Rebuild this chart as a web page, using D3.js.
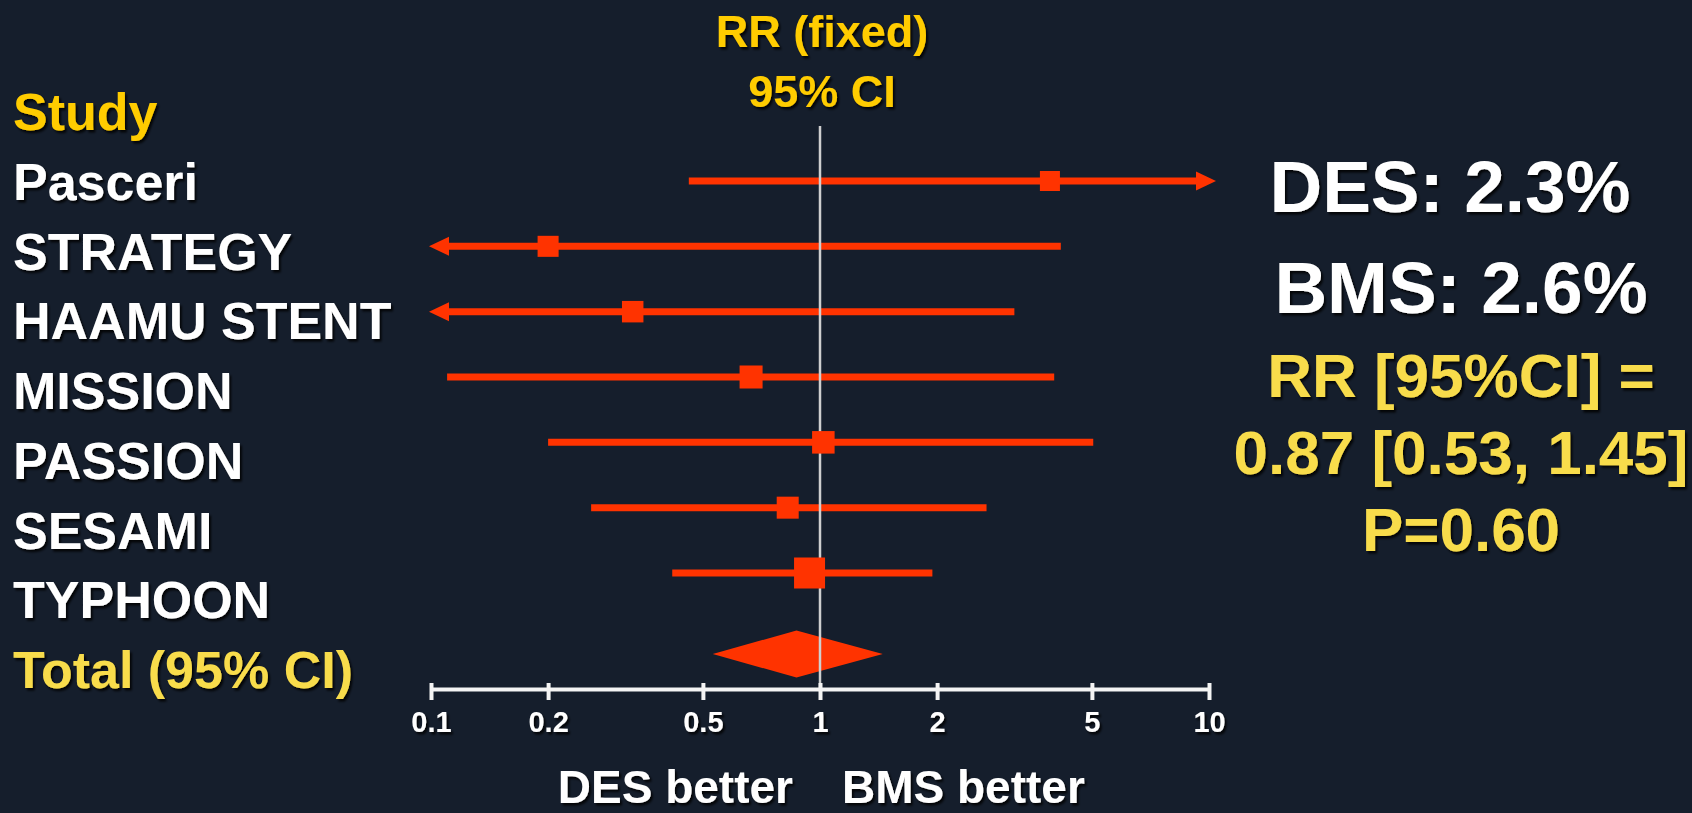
<!DOCTYPE html>
<html>
<head>
<meta charset="utf-8">
<script src="https://cdn.jsdelivr.net/npm/d3@7"></script>
<style>
  html, body { margin: 0; padding: 0; background: #151e2c; }
  svg { display: block; }
  text { font-family: "Liberation Sans", Arial, Helvetica, sans-serif; font-weight: bold; }
</style>
</head>
<body>
<script>
// ---------- data ----------
const studies   = ["Pasceri", "STRATEGY", "HAAMU STENT", "MISSION", "PASSION", "SESAMI", "TYPHOON"];
const rr        = [3.9, 0.20, 0.33, 0.665, 1.02, 0.826, 0.94];
const ciLow     = [0.46, null, null, 0.11, 0.20, 0.258, 0.417];   // null = below 0.1 (arrow)
const ciHigh    = [null, 4.16, 3.16, 4.0, 5.04, 2.68, 1.945];     // null = above 10 (arrow)
const weights   = [10.6, 11.7, 12.2, 14.0, 13.4, 12.8, 25.4];     // % weight (square area)
const totalRR   = 0.87;
const totalLow  = 0.53;
const totalHigh = 1.45;
const tickValues = [0.1, 0.2, 0.5, 1, 2, 5, 10];
const tickLabels = ["0.1", "0.2", "0.5", "1", "2", "5", "10"];
const headerStudy = "Study";
const headerTotal = "Total (95% CI)";
const headerRR    = ["RR (fixed)", "95% CI"];
const favourLeft  = "DES better";
const favourRight = "BMS better";
const summaryWhite  = ["DES: 2.3%", "BMS: 2.6%"];
const summaryYellow = ["RR [95%CI] =", "0.87 [0.53, 1.45]", "P=0.60"];

// ---------- layout ----------
const W = 1692, H = 813;
const RED = "#ff3300", WHITE = "#ffffff", GOLD = "#ffcc00", PALE = "#f8dc4c";

const svg = d3.select("body").append("svg").attr("width", W).attr("height", H);
const defs = svg.append("defs");
defs.append("filter").attr("id", "sh").attr("x", "-10%").attr("y", "-20%").attr("width", "130%").attr("height", "150%")
  .append("feDropShadow").attr("dx", 2).attr("dy", 2.5).attr("stdDeviation", 1)
  .attr("flood-color", "#000").attr("flood-opacity", 0.85);

const x = d3.scaleLog().domain([0.1, 10]).range([431, 1209]);
const axisY = 689;

// rows for the plotted marks
const yRow = d3.scalePoint().domain(studies).range([181, 573]);
// rows for the text labels (baselines)
const yLab = d3.scalePoint().domain([headerStudy, ...studies, headerTotal]).range([130, 688]);
const size = d3.scaleSqrt().domain([0, d3.max(weights)]).range([0, 31]);

const rows = studies.map((s, i) => ({ s, rr: rr[i], lo: ciLow[i], hi: ciHigh[i], w: weights[i] }));

// ---------- labels ----------
svg.append("g").selectAll("text")
  .data([headerStudy, ...studies, headerTotal])
  .join("text")
  .attr("x", 13)
  .attr("y", d => yLab(d))
  .attr("font-size", 52)
  .attr("fill", d => d === headerStudy ? GOLD : d === headerTotal ? PALE : WHITE)
  .attr("filter", "url(#sh)")
  .text(d => d);

// header over the plot
svg.append("g").selectAll("text")
  .data(headerRR)
  .join("text")
  .attr("x", x(1) + 2)
  .attr("y", (d, i) => 47 + i * 60)
  .attr("text-anchor", "middle")
  .attr("font-size", 45)
  .attr("fill", GOLD)
  .attr("filter", "url(#sh)")
  .text(d => d);

// ---------- CI lines ----------
const gLines = svg.append("g");
const armLen = 20, armHalf = 9.5;
rows.forEach(r => {
  const y = yRow(r.s);
  const x0 = r.lo === null ? x(0.1) - 2 + armLen - 1 : x(r.lo);
  const x1 = r.hi === null ? x(10) + 7 - armLen + 1 : x(r.hi);
  gLines.append("line")
    .attr("x1", x0).attr("x2", x1).attr("y1", y).attr("y2", y)
    .attr("stroke", RED).attr("stroke-width", 7);
  if (r.lo === null) {
    const tip = x(0.1) - 2;
    gLines.append("path")
      .attr("d", `M${tip},${y}L${tip + armLen},${y - armHalf}L${tip + armLen},${y + armHalf}Z`)
      .attr("fill", RED);
  }
  if (r.hi === null) {
    const tip = x(10) + 7;
    gLines.append("path")
      .attr("d", `M${tip},${y}L${tip - armLen},${y - armHalf}L${tip - armLen},${y + armHalf}Z`)
      .attr("fill", RED);
  }
});

// ---------- total diamond ----------
const yTot = yLab(headerTotal) - 34;
svg.append("path")
  .attr("d", `M${x(totalLow)},${yTot}L${x(totalRR)},${yTot - 23.5}L${x(totalHigh)},${yTot}L${x(totalRR)},${yTot + 23.5}Z`)
  .attr("fill", RED);

// ---------- reference line at RR = 1 ----------
svg.append("line")
  .attr("x1", x(1)).attr("x2", x(1))
  .attr("y1", 126).attr("y2", axisY)
  .attr("stroke", "#cfcfcf").attr("stroke-width", 2.5);

// ---------- squares ----------
svg.append("g").selectAll("rect")
  .data(rows)
  .join("rect")
  .attr("x", d => x(d.rr) - size(d.w) / 2)
  .attr("y", d => yRow(d.s) - size(d.w) / 2)
  .attr("width", d => size(d.w))
  .attr("height", d => size(d.w))
  .attr("fill", RED);

// ---------- axis ----------
const axis = d3.axisBottom(x)
  .tickValues(tickValues)
  .tickFormat((d, i) => tickLabels[i])
  .tickSizeInner(11)
  .tickSizeOuter(0);
const gAxis = svg.append("g").attr("transform", `translate(0,${axisY})`).call(axis);
gAxis.select(".domain").attr("stroke", "#f4f4f4").attr("stroke-width", 4);
gAxis.selectAll(".tick line").attr("stroke", "#f4f4f4").attr("stroke-width", 4).attr("y1", -6).attr("y2", 11);
gAxis.selectAll(".tick text")
  .attr("y", 43).attr("dy", 0)
  .attr("font-size", 29)
  .attr("font-family", "'Liberation Sans', Arial, sans-serif")
  .attr("font-weight", "bold")
  .attr("fill", WHITE)
  .attr("filter", "url(#sh)");

// favour labels
svg.append("text").attr("x", x(1) - 27).attr("y", 803).attr("text-anchor", "end")
  .attr("font-size", 46).attr("fill", WHITE).attr("filter", "url(#sh)").text(favourLeft);
svg.append("text").attr("x", x(1) + 22).attr("y", 803).attr("text-anchor", "start")
  .attr("font-size", 46).attr("fill", WHITE).attr("filter", "url(#sh)").text(favourRight);

// ---------- summary on the right ----------
const whiteCx = [1450, 1461];
svg.append("g").selectAll("text")
  .data(summaryWhite)
  .join("text")
  .attr("x", (d, i) => whiteCx[i])
  .attr("y", (d, i) => 212 + i * 101)
  .attr("text-anchor", "middle")
  .attr("font-size", 73)
  .attr("fill", WHITE)
  .attr("filter", "url(#sh)")
  .text(d => d);
svg.append("g").selectAll("text")
  .data(summaryYellow)
  .join("text")
  .attr("x", 1461)
  .attr("y", (d, i) => 397 + i * 77)
  .attr("text-anchor", "middle")
  .attr("font-size", 62)
  .attr("fill", PALE)
  .attr("filter", "url(#sh)")
  .text(d => d);
</script>
</body>
</html>
